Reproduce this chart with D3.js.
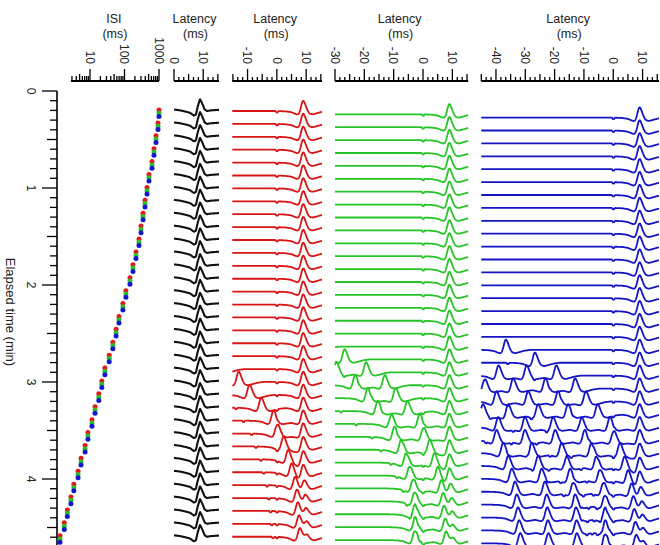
<!DOCTYPE html>
<html>
<head>
<meta charset="utf-8">
<script src="https://cdn.jsdelivr.net/npm/d3@7"></script>
<style>
  body { margin: 0; background: #fff; }
  svg { display: block; font-family: Arial, "Liberation Sans", sans-serif; }
</style>
</head>
<body>
<div id="chart"></div>
<script>
// Elapsed time of each sweep group (min), green sweep
const elapsedTime = [0.230, 0.363, 0.496, 0.629, 0.762, 0.895, 1.028, 1.161, 1.294, 1.427,
  1.560, 1.693, 1.826, 1.959, 2.092, 2.225, 2.358, 2.491, 2.624, 2.757,
  2.890, 3.023, 3.156, 3.289, 3.422, 3.555, 3.688, 3.821, 3.954, 4.087,
  4.220, 4.353, 4.486, 4.619];

// ISI of each sweep group (ms)
const isiValues = [1000, 936, 819, 716, 627, 513, 449, 393, 344, 301,
  263, 215, 176, 144, 110, 90, 69, 57, 46, 36,
  27, 22, 18, 14, 11.4, 8.7, 7.2, 5.5, 4.5, 3.4,
  2.8, 2.2, 1.8, 1.35];

// red / green / blue sweeps are a few seconds apart (min)
const sweepOffset = [-0.034, 0, 0.034];
// pulses in the train shown by the red / green / blue sweeps
const pulseCount = [2, 3, 6];

// Main response latency (ms) and relative size for each sweep
const mainLatency = [8.9, 8.9, 8.9, 8.9, 8.9, 8.9, 8.9, 8.9, 8.9, 8.9,
  8.9, 8.9, 8.9, 8.9, 8.9, 8.9, 8.9, 8.9, 8.9, 8.9,
  8.9, 8.9, 8.9, 8.9, 8.9, 8.9, 8.9, 8.9, 8.9, 9.3,
  9.7, 9.9, 10.1, 10.2];
const mainSize = [1, 1, 1, 1, 1, 1, 1, 1, 1, 1,
  1, 1, 1, 1, 1, 1, 1, 1, 1, 1,
  1, 1, 1, 1, 1, 1, 1, 1, 1, 0.8,
  0.65, 0.6, 0.55, 0.5];

// Latencies of earlier responses in each sweep (ms), oldest first
const earlierPeaks = [[], [], [], [], [], [], [], [], [], [],
  [], [], [], [], [], [], [], [],
  [-36.7],
  [-26.8],
  [-39.2, -29.6, -19.5],
  [-43.9, -34.2, -23.2, -13.1],
  [-39.9, -29.1, -18.9, -9.4],
  [-44.5, -35.9, -25.7, -15.5, -5.4],
  [-39.3, -30.2, -20.6, -10.9, -1.2],
  [-39.9, -30.2, -19.9, -9.8, 0.1],
  [-37.6, -27.9, -17.7, -7.5, 2.2],
  [-35.9, -25.7, -16.0, -5.8, 3.8],
  [-34.7, -24.5, -14.8, -4.6, 5.0],
  [-33.6, -23.4, -13.7, -3.4, 6.2],
  [-33.0, -22.8, -13.1, -2.9, 6.8],
  [-32.6, -22.6, -12.8, -2.8, 7.1],
  [-32.2, -22.4, -12.6, -2.8, 7.5],
  [-31.8, -22.2, -12.5, -2.8, 7.8]];

// Response shape: time from peak (ms) -> relative amplitude
const shapeTime = [-9, -6, -4, -2.6, -1.7, -1.1, -0.5, 0, 0.6, 1.3, 2.1, 3.2, 4.7, 6.3, 8.5];
const shapeValue = [0, -0.03, -0.1, -0.25, -0.32, -0.1, 0.55, 1, 0.72, 0.2, -0.2, -0.3, -0.2, -0.08, 0];
const blackShapeTime = [-8.9, -6.9, -4.9, -3.4, -2.1, -1.4, -0.8, 0, 0.8, 1.6, 2.4, 3.6, 6.5];
const blackShapeValue = [0.12, 0.06, -0.05, -0.15, -0.38, -0.3, 0.35, 1, 0.6, 0.12, 0, 0.05, 0.1];
// Stimulus artifact shape
const notchTime = [-0.2, 0.05, 0.3];
const notchValue = [0, -0.35, 0];

const timeTicks = [0, 1, 2, 3, 4];
const isiTicks = [10, 100, 1000];
const blackRange = [0, 15.4];
const redRange = [-15.2, 15.4];
const greenRange = [-30, 15.4];
const blueRange = [-45, 15.6];

const dotColors = ["#e0191b", "#2cbd2c", "#1616cc"];
const traceColors = ["#d81414", "#27c427", "#1414c4"];

const width = 660, height = 545;

const svg = d3.select("#chart")
  .append("svg")
  .attr("width", width)
  .attr("height", height);

// Scales
const yTime = d3.scaleLinear().domain([0, 5]).range([91, 91 + 5 * 97]);
const xIsi = d3.scaleLog().domain([10, 1000]).range([90, 159]);
const shape = d3.scaleLinear().domain(shapeTime).range(shapeValue).clamp(true);
const blackShape = d3.scaleLinear().domain(blackShapeTime).range(blackShapeValue).clamp(true);
const notch = d3.scaleLinear().domain(notchTime).range(notchValue).clamp(true);
const amp = d3.scaleLinear().domain([0, 1]).range([0, -11.5]);
const ampBlack = d3.scaleLinear().domain([0, 1]).range([0, -12]);

const textColor = "#222";
const axisY = 81;

// ---- Elapsed time axis (left) ----
const timeAxis = svg.append("g").attr("class", "time-axis");
timeAxis.append("line")
  .attr("x1", 57).attr("x2", 57)
  .attr("y1", yTime(0)).attr("y2", height)
  .attr("stroke", "#000").attr("stroke-width", 1.6);

d3.range(0, 48).map(k => k / 10).forEach(v => {
  const major = Math.abs(v - Math.round(v)) < 1e-6;
  const mid = !major && Math.abs(v * 2 - Math.round(v * 2)) < 1e-6;
  const len = major ? 15 : mid ? 10 : 7;
  timeAxis.append("line")
    .attr("x1", 57 - len).attr("x2", 57)
    .attr("y1", yTime(v)).attr("y2", yTime(v))
    .attr("stroke", "#000").attr("stroke-width", 1.3);
});

timeAxis.selectAll(".tlabel")
  .data(timeTicks)
  .enter()
  .append("text")
  .attr("transform", d => `translate(31,${yTime(d)}) rotate(90)`)
  .attr("text-anchor", "middle")
  .attr("dy", "0.35em")
  .style("font-size", "12px")
  .style("fill", textColor)
  .text(d => d);

svg.append("text")
  .attr("transform", `translate(11,312) rotate(90)`)
  .attr("text-anchor", "middle")
  .attr("dy", "0.35em")
  .style("font-size", "13px")
  .style("fill", textColor)
  .text("Elapsed time (min)");

// ---- Top axes ----
function drawTitle(cx, label) {
  svg.append("text")
    .attr("x", cx).attr("y", 22.5)
    .attr("text-anchor", "middle")
    .style("font-size", "12.5px")
    .style("fill", textColor)
    .text(label);
  svg.append("text")
    .attr("x", cx + 1).attr("y", 37.5)
    .attr("text-anchor", "middle")
    .style("font-size", "12.5px")
    .style("fill", textColor)
    .text("(ms)");
}

function drawTickLabel(x, label) {
  svg.append("text")
    .attr("transform", `translate(${x},64) rotate(90)`)
    .attr("text-anchor", "end")
    .attr("dy", "0.35em")
    .style("font-size", "12px")
    .style("fill", textColor)
    .text(label);
}

function drawTick(x, len) {
  svg.append("line")
    .attr("x1", x).attr("x2", x)
    .attr("y1", axisY).attr("y2", axisY - len)
    .attr("stroke", "#000").attr("stroke-width", 1.3);
}

// ISI axis (log)
svg.append("line")
  .attr("x1", xIsi(2.8)).attr("x2", xIsi(1000))
  .attr("y1", axisY).attr("y2", axisY)
  .attr("stroke", "#000").attr("stroke-width", 1.8);
[1, 10, 100].forEach(dec => {
  d3.range(2, 10).forEach(m => {
    const v = m * dec;
    if (v < 2.8) return;
    drawTick(xIsi(v), m === 5 ? 7 : 5);
  });
});
isiTicks.forEach(v => {
  drawTick(xIsi(v), 12);
  drawTickLabel(xIsi(v), v);
});
drawTitle((xIsi(2.8) + xIsi(1000)) / 2 - 1, "ISI");

// Latency columns
const columns = [
  { range: blackRange, x: [174, 219] },
  { range: redRange, x: [232.3, 322] },
  { range: greenRange, x: [335, 468.2] },
  { range: blueRange, x: [481.3, 659] }
];
columns.forEach(col => {
  col.scale = d3.scaleLinear().domain(col.range).range(col.x);
  svg.append("line")
    .attr("x1", col.x[0]).attr("x2", col.x[1])
    .attr("y1", axisY).attr("y2", axisY)
    .attr("stroke", "#000").attr("stroke-width", 1.8);
  const k0 = Math.ceil(col.range[0] * 0.6 - 1e-6);
  const k1 = Math.floor(col.range[1] * 0.6 + 1e-6);
  d3.range(k0, k1 + 1).forEach(k => {
    const v = k / 0.6;
    const len = k % 6 === 0 ? 12 : k % 3 === 0 ? 7 : 4;
    drawTick(col.scale(v), len);
    if (k % 6 === 0) drawTickLabel(col.scale(v), Math.round(v));
  });
  drawTitle((col.x[0] + col.x[1]) / 2 - 2, "Latency");
});

// ---- ISI dots ----
const dots = svg.append("g").attr("class", "dots");
sweepOffset.forEach((off, c) => {
  dots.selectAll(".dot" + c)
    .data(elapsedTime)
    .enter()
    .append("circle")
    .attr("cx", (d, i) => xIsi(isiValues[i]))
    .attr("cy", d => yTime(d + off))
    .attr("r", 2.5)
    .attr("fill", dotColors[c]);
});

// ---- Sweeps ----
// c: 0 red, 1 green, 2 blue; a train of n pulses shows n-1 earlier responses
function rawValue(c, i, lat) {
  const n = pulseCount[c];
  let v = mainSize[i] * shape(lat - mainLatency[i]);
  earlierPeaks[i].slice(-(n - 1)).forEach(p => { v += shape(lat - p); });
  d3.range(n).forEach(k => { v += notch(lat + k * isiValues[i]); });
  return v;
}
// light smoothing, like the recorded traces
function sweepValue(c, i, lat) {
  return d3.mean([-0.3, -0.15, 0, 0.15, 0.3], o => rawValue(c, i, lat + o));
}

const traces = svg.append("g").attr("class", "traces");

// black column
const blackCol = columns[0];
const blackLats = d3.range(blackRange[0], blackRange[1] + 0.001, 0.1);
elapsedTime.forEach((t, i) => {
  const base = yTime(t + sweepOffset[0]) + 1;
  const line = d3.line()
    .x(d => blackCol.scale(d))
    .y(d => base + ampBlack(blackShape(d - mainLatency[0])))
    .curve(d3.curveBasis);
  traces.append("path")
    .attr("d", line(blackLats))
    .attr("fill", "none")
    .attr("stroke", "#111")
    .attr("stroke-width", 2.1)
    .attr("stroke-linejoin", "round");
});

// coloured columns
[0, 1, 2].forEach(c => {
  const col = columns[c + 1];
  const lats = d3.range(col.range[0], col.range[1] + 0.001, 0.1);
  elapsedTime.forEach((t, i) => {
    const base = yTime(t + sweepOffset[c]) + 1;
    const line = d3.line()
      .x(d => col.scale(d))
      .y(d => base + amp(sweepValue(c, i, d)));
    traces.append("path")
      .attr("d", line(lats))
      .attr("fill", "none")
      .attr("stroke", traceColors[c])
      .attr("stroke-width", 1.8)
      .attr("stroke-linejoin", "round");
  });
});
</script>
</body>
</html>
